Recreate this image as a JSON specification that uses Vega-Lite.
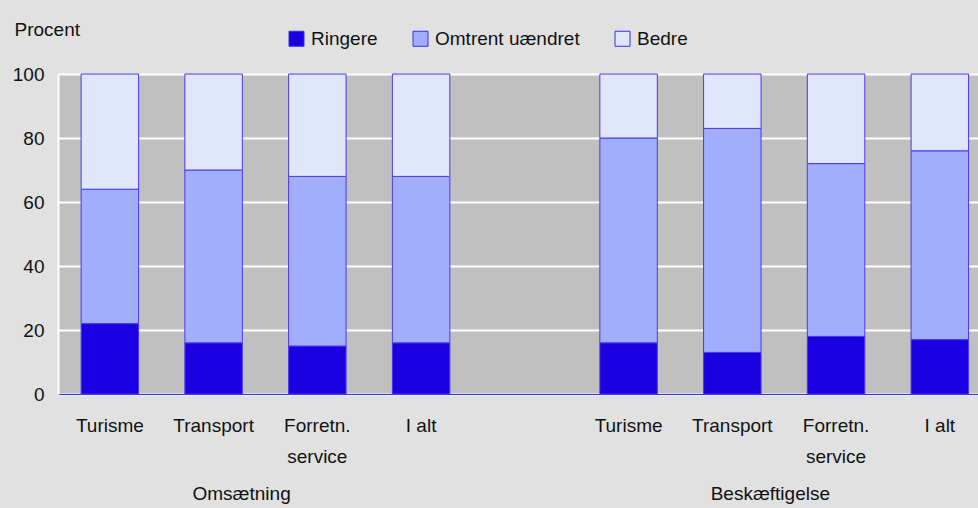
{
  "$schema": "https://vega.github.io/schema/vega-lite/v6.json",
  "width": 920,
  "height": 320,
  "autosize": {"type": "none"},
  "padding": {"left": 58, "top": 74, "right": 0, "bottom": 114},
  "background": "#e1e1e1",
  "config": {
    "font": "Liberation Sans, sans-serif",
    "view": {"fill": "#c0c0c0", "stroke": null},
    "axis": {"labelColor": "#111111", "titleColor": "#111111"}
  },
  "datasets": {
    "bars": [
      {"slot": "O1", "kategori": "Ringere", "rank": 1, "procent": 22},
      {"slot": "O1", "kategori": "Omtrent uændret", "rank": 2, "procent": 42},
      {"slot": "O1", "kategori": "Bedre", "rank": 3, "procent": 36},
      {"slot": "O2", "kategori": "Ringere", "rank": 1, "procent": 16},
      {"slot": "O2", "kategori": "Omtrent uændret", "rank": 2, "procent": 54},
      {"slot": "O2", "kategori": "Bedre", "rank": 3, "procent": 30},
      {"slot": "O3", "kategori": "Ringere", "rank": 1, "procent": 15},
      {"slot": "O3", "kategori": "Omtrent uændret", "rank": 2, "procent": 53},
      {"slot": "O3", "kategori": "Bedre", "rank": 3, "procent": 32},
      {"slot": "O4", "kategori": "Ringere", "rank": 1, "procent": 16},
      {"slot": "O4", "kategori": "Omtrent uændret", "rank": 2, "procent": 52},
      {"slot": "O4", "kategori": "Bedre", "rank": 3, "procent": 32},
      {"slot": "B1", "kategori": "Ringere", "rank": 1, "procent": 16},
      {"slot": "B1", "kategori": "Omtrent uændret", "rank": 2, "procent": 64},
      {"slot": "B1", "kategori": "Bedre", "rank": 3, "procent": 20},
      {"slot": "B2", "kategori": "Ringere", "rank": 1, "procent": 13},
      {"slot": "B2", "kategori": "Omtrent uændret", "rank": 2, "procent": 70},
      {"slot": "B2", "kategori": "Bedre", "rank": 3, "procent": 17},
      {"slot": "B3", "kategori": "Ringere", "rank": 1, "procent": 18},
      {"slot": "B3", "kategori": "Omtrent uændret", "rank": 2, "procent": 54},
      {"slot": "B3", "kategori": "Bedre", "rank": 3, "procent": 28},
      {"slot": "B4", "kategori": "Ringere", "rank": 1, "procent": 17},
      {"slot": "B4", "kategori": "Omtrent uændret", "rank": 2, "procent": 59},
      {"slot": "B4", "kategori": "Bedre", "rank": 3, "procent": 24}
    ]
  },
  "layer": [
    {
      "data": {"name": "bars"},
      "mark": {"type": "bar", "stroke": "#4a38ee", "strokeWidth": 1},
      "encoding": {
        "x": {
          "field": "slot", "type": "nominal",
          "scale": {"domain": ["O1", "O2", "O3", "O4", "gap", "B1", "B2", "B3", "B4"], "paddingInner": 0.446, "paddingOuter": 0.157, "align": 0.71},
          "axis": {
            "title": null, "ticks": false, "domain": true, "domainColor": "#3a2ce8", "domainWidth": 1,
            "labelAngle": 0, "labelFontSize": 19, "labelPadding": 22, "labelLineHeight": 31,
            "labelExpr": "indexof(['O1','B1'], datum.value) >= 0 ? 'Turisme' : indexof(['O2','B2'], datum.value) >= 0 ? 'Transport' : indexof(['O3','B3'], datum.value) >= 0 ? ['Forretn.', 'service'] : indexof(['O4','B4'], datum.value) >= 0 ? 'I alt' : ''"
          }
        },
        "y": {
          "field": "procent", "type": "quantitative", "stack": "zero",
          "scale": {"domain": [0, 100]},
          "axis": {
            "values": [0, 20, 40, 60, 80, 100], "ticks": false, "domain": true, "domainColor": "#ffffff", "domainWidth": 2,
            "grid": true, "gridColor": "#ffffff", "gridWidth": 2, "gridOpacity": 1,
            "labelFontSize": 19, "labelPadding": 14,
            "title": "Procent", "titleAngle": 0, "titleAlign": "left", "titleBaseline": "alphabetic",
            "titleFontSize": 19, "titleFontWeight": "normal", "titleX": -44, "titleY": -39
          }
        },
        "color": {
          "field": "kategori", "type": "nominal",
          "scale": {"domain": ["Ringere", "Omtrent uændret", "Bedre"], "range": ["#1a00e0", "#a1aefe", "#e0e6fc"]},
          "legend": {
            "title": null, "orient": "none", "direction": "horizontal", "legendX": 229, "legendY": -45,
            "symbolType": "square", "symbolSize": 225, "symbolStrokeColor": "#3a2ce8", "symbolStrokeWidth": 1,
            "labelFontSize": 19, "labelColor": "#111111", "labelOffset": 5, "columnPadding": 33
          }
        },
        "order": {"field": "rank", "type": "quantitative"}
      }
    },
    {
      "data": {"values": [{"slot": "O2", "gruppe": "Omsætning"}]},
      "mark": {"type": "text", "fontSize": 19, "color": "#111111", "baseline": "alphabetic", "align": "center", "dx": 28},
      "encoding": {
        "x": {"field": "slot", "type": "nominal"},
        "y": {"datum": -33, "type": "quantitative"},
        "text": {"field": "gruppe"}
      }
    },
    {
      "data": {"values": [{"slot": "B2", "gruppe": "Beskæftigelse"}]},
      "mark": {"type": "text", "fontSize": 19, "color": "#111111", "baseline": "alphabetic", "align": "center", "dx": 38},
      "encoding": {
        "x": {"field": "slot", "type": "nominal"},
        "y": {"datum": -33, "type": "quantitative"},
        "text": {"field": "gruppe"}
      }
    }
  ]
}
